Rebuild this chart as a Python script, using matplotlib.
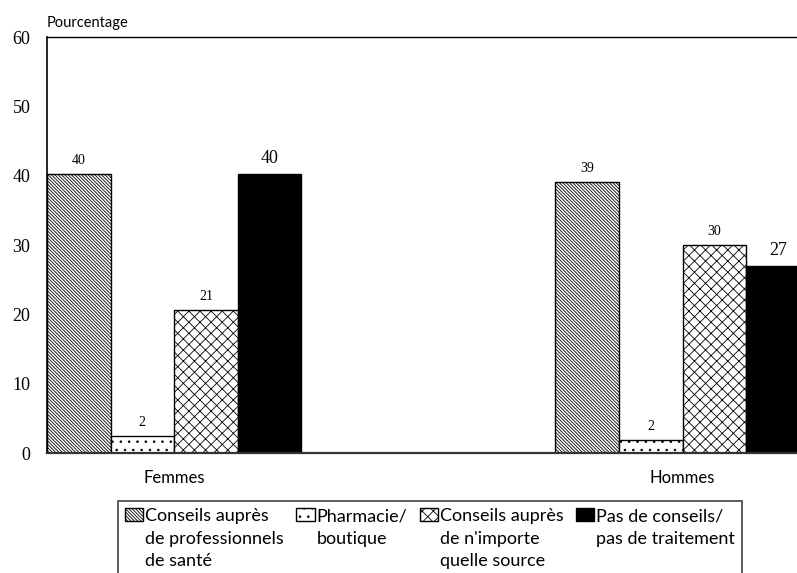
#bar chart - conseils / traitement par sexe
import matplotlib.pyplot as plt
import numpy as np

groups = ['Femmes', 'Hommes']
series_labels = ['Conseils auprès\nde professionnels\nde santé',
                 'Pharmacie/\nboutique',
                 "Conseils auprès\nde n'importe\nquelle source",
                 'Pas de conseils/\npas de traitement']
conseils_pro = [40.3, 39.1]
pharmacie = [2.4, 1.9]
autre_source = [20.6, 30.0]
aucun = [40.3, 27.0]
yticks = [0, 10, 20, 30, 40, 50, 60]

plt.rcParams['hatch.linewidth'] = 0.6
sans = ['Lato', 'DejaVu Sans']
serif = ['Liberation Serif', 'DejaVu Serif']

fig = plt.figure(figsize=(7.97, 5.73), dpi=100)
ax = fig.add_axes([47/797, 1-453/573, 750/797, 416/573])

x = np.array([0, 8])
w = 1.0
series = [conseils_pro, pharmacie, autre_source, aucun]
styles = [dict(color='white', edgecolor='black', hatch='\\' * 10),
          dict(color='white', edgecolor='black', hatch='..'),
          dict(color='white', edgecolor='black', hatch='xxx'),
          dict(color='black', edgecolor='black')]
lab_size = [10, 10, 10, 13]

for i, (vals, st) in enumerate(zip(series, styles)):
    pos = x + (i - 1.5) * w
    bars = ax.bar(pos, vals, width=w, linewidth=1.0, label=series_labels[i], **st)
    for b, v in zip(bars, vals):
        ax.annotate(f'{v:.0f}', xy=(b.get_x() + w/2, v), xytext=(0, 5),
                    textcoords='offset points', ha='center', va='bottom',
                    fontsize=lab_size[i], family=serif, annotation_clip=False)

ax.set_xlim(-2, 9.8)
ax.set_ylim(0, 60)
ax.set_yticks(yticks)
ax.set_yticklabels([str(t) for t in yticks], family=serif, fontsize=13)
ax.set_xticks(x)
ax.set_xticklabels(groups, family=sans, fontsize=12)
ax.tick_params(axis='y', length=0, pad=12)
ax.tick_params(axis='x', length=0, pad=12)

ax.spines['right'].set_visible(False)
ax.spines['left'].set_linewidth(1.2)
ax.spines['top'].set_linewidth(1.0)
ax.spines['bottom'].set_color('#333333')
ax.spines['bottom'].set_linewidth(1.6)

ax.annotate('Pourcentage', xy=(0, 1), xycoords='axes fraction', xytext=(0, 5),
            textcoords='offset points', ha='left', va='bottom',
            fontsize=10.5, family=sans)

leg = fig.legend(loc='upper left', bbox_to_anchor=(118/797, 1-501/573), ncol=4,
                 prop={'family': sans, 'size': 13}, frameon=True, fancybox=False,
                 borderaxespad=0, borderpad=0.4, handlelength=1.0, handleheight=0.7,
                 handletextpad=0.1, columnspacing=0.7, labelspacing=0.3)
leg.get_frame().set_edgecolor('#333333')
leg.get_frame().set_linewidth(1.4)
for t in leg.get_texts():
    t.set_linespacing(1.5)
# handles next to first line of each label, columns aligned at top
leg._legend_handle_box.align = 'top'
for col in leg._legend_handle_box.get_children():
    for item in col.get_children():
        item.align = 'top'

fig.savefig('out.png', dpi=100)
